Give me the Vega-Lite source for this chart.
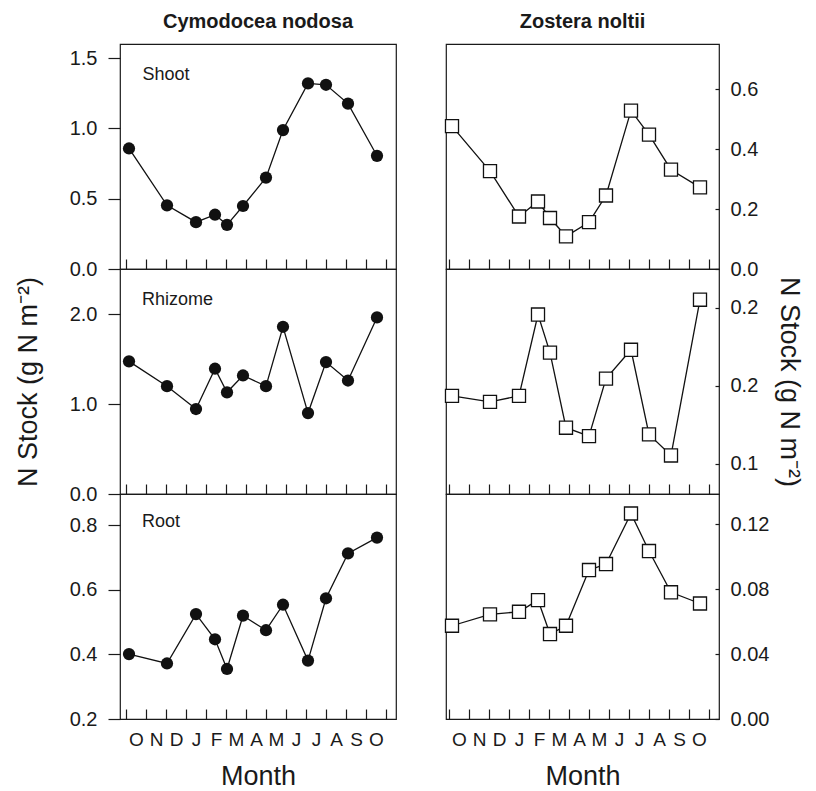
{
  "$schema": "https://vega.github.io/schema/vega-lite/v6.json",
  "background": "white",
  "padding": {"left": 13, "top": 11, "right": 5, "bottom": 2},
  "datasets": {
    "stock": [
      {"species": "Cymodocea nodosa", "part": "Shoot", "month": 0.15, "n": 0.857},
      {"species": "Cymodocea nodosa", "part": "Shoot", "month": 2.05, "n": 0.453},
      {"species": "Cymodocea nodosa", "part": "Shoot", "month": 3.5, "n": 0.333},
      {"species": "Cymodocea nodosa", "part": "Shoot", "month": 4.45, "n": 0.386},
      {"species": "Cymodocea nodosa", "part": "Shoot", "month": 5.05, "n": 0.314},
      {"species": "Cymodocea nodosa", "part": "Shoot", "month": 5.85, "n": 0.448},
      {"species": "Cymodocea nodosa", "part": "Shoot", "month": 7.0, "n": 0.65},
      {"species": "Cymodocea nodosa", "part": "Shoot", "month": 7.85, "n": 0.988},
      {"species": "Cymodocea nodosa", "part": "Shoot", "month": 9.1, "n": 1.32},
      {"species": "Cymodocea nodosa", "part": "Shoot", "month": 10.0, "n": 1.31},
      {"species": "Cymodocea nodosa", "part": "Shoot", "month": 11.1, "n": 1.176},
      {"species": "Cymodocea nodosa", "part": "Shoot", "month": 12.55, "n": 0.805},
      {"species": "Cymodocea nodosa", "part": "Rhizome", "month": 0.15, "n": 1.474},
      {"species": "Cymodocea nodosa", "part": "Rhizome", "month": 2.05, "n": 1.198},
      {"species": "Cymodocea nodosa", "part": "Rhizome", "month": 3.5, "n": 0.944},
      {"species": "Cymodocea nodosa", "part": "Rhizome", "month": 4.45, "n": 1.392},
      {"species": "Cymodocea nodosa", "part": "Rhizome", "month": 5.05, "n": 1.13},
      {"species": "Cymodocea nodosa", "part": "Rhizome", "month": 5.85, "n": 1.317},
      {"species": "Cymodocea nodosa", "part": "Rhizome", "month": 7.0, "n": 1.198},
      {"species": "Cymodocea nodosa", "part": "Rhizome", "month": 7.85, "n": 1.858},
      {"species": "Cymodocea nodosa", "part": "Rhizome", "month": 9.1, "n": 0.899},
      {"species": "Cymodocea nodosa", "part": "Rhizome", "month": 10.0, "n": 1.466},
      {"species": "Cymodocea nodosa", "part": "Rhizome", "month": 11.1, "n": 1.261},
      {"species": "Cymodocea nodosa", "part": "Rhizome", "month": 12.55, "n": 1.962},
      {"species": "Cymodocea nodosa", "part": "Root", "month": 0.15, "n": 0.401},
      {"species": "Cymodocea nodosa", "part": "Root", "month": 2.05, "n": 0.372},
      {"species": "Cymodocea nodosa", "part": "Root", "month": 3.5, "n": 0.525},
      {"species": "Cymodocea nodosa", "part": "Root", "month": 4.45, "n": 0.447},
      {"species": "Cymodocea nodosa", "part": "Root", "month": 5.05, "n": 0.355},
      {"species": "Cymodocea nodosa", "part": "Root", "month": 5.85, "n": 0.52},
      {"species": "Cymodocea nodosa", "part": "Root", "month": 7.0, "n": 0.475},
      {"species": "Cymodocea nodosa", "part": "Root", "month": 7.85, "n": 0.554},
      {"species": "Cymodocea nodosa", "part": "Root", "month": 9.1, "n": 0.381},
      {"species": "Cymodocea nodosa", "part": "Root", "month": 10.0, "n": 0.574},
      {"species": "Cymodocea nodosa", "part": "Root", "month": 11.1, "n": 0.713},
      {"species": "Cymodocea nodosa", "part": "Root", "month": 12.55, "n": 0.762},
      {"species": "Zostera noltii", "part": "Shoot", "month": 0.15, "n": 0.476},
      {"species": "Zostera noltii", "part": "Shoot", "month": 2.05, "n": 0.326},
      {"species": "Zostera noltii", "part": "Shoot", "month": 3.5, "n": 0.175},
      {"species": "Zostera noltii", "part": "Shoot", "month": 4.45, "n": 0.225},
      {"species": "Zostera noltii", "part": "Shoot", "month": 5.05, "n": 0.17},
      {"species": "Zostera noltii", "part": "Shoot", "month": 5.85, "n": 0.109},
      {"species": "Zostera noltii", "part": "Shoot", "month": 7.0, "n": 0.156},
      {"species": "Zostera noltii", "part": "Shoot", "month": 7.85, "n": 0.245},
      {"species": "Zostera noltii", "part": "Shoot", "month": 9.1, "n": 0.528},
      {"species": "Zostera noltii", "part": "Shoot", "month": 10.0, "n": 0.448},
      {"species": "Zostera noltii", "part": "Shoot", "month": 11.1, "n": 0.331},
      {"species": "Zostera noltii", "part": "Shoot", "month": 12.55, "n": 0.272},
      {"species": "Zostera noltii", "part": "Rhizome", "month": 0.15, "n": 0.1436},
      {"species": "Zostera noltii", "part": "Rhizome", "month": 2.05, "n": 0.1398},
      {"species": "Zostera noltii", "part": "Rhizome", "month": 3.5, "n": 0.1436},
      {"species": "Zostera noltii", "part": "Rhizome", "month": 4.45, "n": 0.1958},
      {"species": "Zostera noltii", "part": "Rhizome", "month": 5.05, "n": 0.1714},
      {"species": "Zostera noltii", "part": "Rhizome", "month": 5.85, "n": 0.1232},
      {"species": "Zostera noltii", "part": "Rhizome", "month": 7.0, "n": 0.1178},
      {"species": "Zostera noltii", "part": "Rhizome", "month": 7.85, "n": 0.1547},
      {"species": "Zostera noltii", "part": "Rhizome", "month": 9.1, "n": 0.1732},
      {"species": "Zostera noltii", "part": "Rhizome", "month": 10.0, "n": 0.1189},
      {"species": "Zostera noltii", "part": "Rhizome", "month": 11.1, "n": 0.1054},
      {"species": "Zostera noltii", "part": "Rhizome", "month": 12.55, "n": 0.2053},
      {"species": "Zostera noltii", "part": "Root", "month": 0.15, "n": 0.0574},
      {"species": "Zostera noltii", "part": "Root", "month": 2.05, "n": 0.0644},
      {"species": "Zostera noltii", "part": "Root", "month": 3.5, "n": 0.066},
      {"species": "Zostera noltii", "part": "Root", "month": 4.45, "n": 0.0732},
      {"species": "Zostera noltii", "part": "Root", "month": 5.05, "n": 0.0523},
      {"species": "Zostera noltii", "part": "Root", "month": 5.85, "n": 0.0574},
      {"species": "Zostera noltii", "part": "Root", "month": 7.0, "n": 0.0917},
      {"species": "Zostera noltii", "part": "Root", "month": 7.85, "n": 0.0954},
      {"species": "Zostera noltii", "part": "Root", "month": 9.1, "n": 0.1265},
      {"species": "Zostera noltii", "part": "Root", "month": 10.0, "n": 0.1034},
      {"species": "Zostera noltii", "part": "Root", "month": 11.1, "n": 0.078},
      {"species": "Zostera noltii", "part": "Root", "month": 12.55, "n": 0.0711}
    ]
  },
  "config": {
    "view": {"stroke": "#1a1a1a", "strokeWidth": 1.2},
    "font": "Liberation Sans",
    "axis": {
      "domain": false, "grid": false,
      "tickColor": "#1a1a1a", "tickWidth": 1.2,
      "labelColor": "#1a1a1a", "labelFont": "Liberation Sans", "labelFontSize": 20,
      "titleColor": "#1a1a1a", "titleFont": "Liberation Sans", "titleFontSize": 27, "titleFontWeight": "normal"
    },
    "title": {"font": "Liberation Sans", "color": "#1a1a1a"}
  },
  "hconcat": [
    {
      "vconcat": [
        {
          "width": 276, "height": 225,
          "title": {"text": "Cymodocea nodosa", "fontSize": 20, "fontWeight": "bold", "anchor": "middle", "frame": "group", "offset": -4, "baseline": "alphabetic"},
          "data": {"name": "stock"},
          "transform": [{"filter": "datum.species == 'Cymodocea nodosa' && datum.part == 'Shoot'"}],
          "encoding": {
            "x": {"field": "month", "type": "quantitative", "scale": {"domain": [-0.3, 13.5], "nice": false, "zero": false},
                  "axis": {"values": [0,1,2,3,4,5,6,7,8,9,10,11,12,13], "labels": false, "tickSize": -10, "title": null}},
            "y": {"field": "n", "type": "quantitative", "scale": {"domain": [0, 1.6], "nice": false, "zero": false},
                  "axis": {"values": [0, 0.5, 1, 1.5], "format": ".1f", "tickSize": 12, "labelPadding": 11,
                           "title": "Shoot", "titleAngle": 0, "titleX": 22, "titleY": 35, "titleAlign": "left", "titleBaseline": "alphabetic", "titleFontSize": 18}}
          },
          "layer": [
            {"mark": {"type": "line", "color": "#111", "strokeWidth": 1.3}},
            {"mark": {"type": "point", "shape": "circle", "filled": true, "size": 150, "color": "#111", "opacity": 1}}
          ]
        },
        {
          "width": 276, "height": 225,
          "title": {"text": "Rhizome", "fontSize": 18, "fontWeight": "normal", "anchor": "start", "frame": "group", "offset": -54, "dx": 22, "baseline": "alphabetic"},
          "data": {"name": "stock"},
          "transform": [{"filter": "datum.species == 'Cymodocea nodosa' && datum.part == 'Rhizome'"}],
          "encoding": {
            "x": {"field": "month", "type": "quantitative", "scale": {"domain": [-0.3, 13.5], "nice": false, "zero": false},
                  "axis": {"values": [0,1,2,3,4,5,6,7,8,9,10,11,12,13], "labels": false, "tickSize": -10, "title": null}},
            "y": {"field": "n", "type": "quantitative", "scale": {"domain": [0, 2.5], "nice": false, "zero": false},
                  "axis": {"values": [0, 1, 2], "format": ".1f", "tickSize": 12, "labelPadding": 11,
                           "title": "N Stock (g N m⁻²)", "titlePadding": 27}}
          },
          "layer": [
            {"mark": {"type": "line", "color": "#111", "strokeWidth": 1.3}},
            {"mark": {"type": "point", "shape": "circle", "filled": true, "size": 150, "color": "#111", "opacity": 1}}
          ]
        },
        {
          "width": 276, "height": 225,
          "title": {"text": "Root", "fontSize": 18, "fontWeight": "normal", "anchor": "start", "frame": "group", "offset": -51, "dx": 22, "baseline": "alphabetic"},
          "data": {"name": "stock"},
          "transform": [{"filter": "datum.species == 'Cymodocea nodosa' && datum.part == 'Root'"}],
          "encoding": {
            "x": {"field": "month", "type": "quantitative", "scale": {"domain": [-0.3, 13.5], "nice": false, "zero": false},
                  "axis": {"values": [0,1,2,3,4,5,6,7,8,9,10,11,12,13], "tickSize": -10,
                           "labelExpr": "['O','N','D','J','F','M','A','M','J','J','A','S','O',''][datum.value]",
                           "labelOffset": 10, "labelPadding": 21, "labelFontSize": 19, "labelFlush": false, "labelOverlap": false, "labelBaseline": "top", "labelAlign": "center",
                           "title": "Month", "titlePadding": 14}},
            "y": {"field": "n", "type": "quantitative", "scale": {"domain": [0.2, 0.897], "nice": false, "zero": false},
                  "axis": {"values": [0.2, 0.4, 0.6, 0.8], "format": ".1f", "tickSize": 12, "labelPadding": 11, "title": null}}
          },
          "layer": [
            {"mark": {"type": "line", "color": "#111", "strokeWidth": 1.3}},
            {"mark": {"type": "point", "shape": "circle", "filled": true, "size": 150, "color": "#111", "opacity": 1}}
          ]
        }
      ],
      "spacing": 0,
      "bounds": "flush"
    },
    {
      "vconcat": [
        {
          "width": 273, "height": 225,
          "title": {"text": "Zostera noltii", "fontSize": 20, "fontWeight": "bold", "anchor": "middle", "frame": "group", "offset": -4, "baseline": "alphabetic"},
          "data": {"name": "stock"},
          "transform": [{"filter": "datum.species == 'Zostera noltii' && datum.part == 'Shoot'"}],
          "encoding": {
            "x": {"field": "month", "type": "quantitative", "scale": {"domain": [-0.15, 13.5], "nice": false, "zero": false},
                  "axis": {"values": [0,1,2,3,4,5,6,7,8,9,10,11,12,13], "labels": false, "tickSize": -10, "title": null}},
            "y": {"field": "n", "type": "quantitative", "scale": {"domain": [0, 0.75], "nice": false, "zero": false},
                  "axis": {"orient": "right", "values": [0, 0.2, 0.4, 0.6], "format": ".1f", "tickSize": -4, "labelPadding": 15, "title": null}}
          },
          "layer": [
            {"mark": {"type": "line", "color": "#111", "strokeWidth": 1.3}},
            {"mark": {"type": "point", "shape": "square", "filled": true, "fill": "white", "stroke": "#111", "strokeWidth": 1.3, "size": 170, "opacity": 1}}
          ]
        },
        {
          "width": 273, "height": 225,
          "data": {"name": "stock"},
          "transform": [{"filter": "datum.species == 'Zostera noltii' && datum.part == 'Rhizome'"}],
          "encoding": {
            "x": {"field": "month", "type": "quantitative", "scale": {"domain": [-0.15, 13.5], "nice": false, "zero": false},
                  "axis": {"values": [0,1,2,3,4,5,6,7,8,9,10,11,12,13], "labels": false, "tickSize": -10, "title": null}},
            "y": {"field": "n", "type": "quantitative", "scale": {"domain": [0.0807, 0.225], "nice": false, "zero": false},
                  "axis": {"orient": "right", "values": [0.1, 0.15, 0.2], "labelExpr": "datum.value < 0.125 ? '0.1' : '0.2'", "tickSize": -4, "labelPadding": 15,
                           "title": "N Stock (g N m⁻²)", "titleAngle": 90, "titlePadding": 17}}
          },
          "layer": [
            {"mark": {"type": "line", "color": "#111", "strokeWidth": 1.3}},
            {"mark": {"type": "point", "shape": "square", "filled": true, "fill": "white", "stroke": "#111", "strokeWidth": 1.3, "size": 170, "opacity": 1}}
          ]
        },
        {
          "width": 273, "height": 225,
          "data": {"name": "stock"},
          "transform": [{"filter": "datum.species == 'Zostera noltii' && datum.part == 'Root'"}],
          "encoding": {
            "x": {"field": "month", "type": "quantitative", "scale": {"domain": [-0.15, 13.5], "nice": false, "zero": false},
                  "axis": {"values": [0,1,2,3,4,5,6,7,8,9,10,11,12,13], "tickSize": -10,
                           "labelExpr": "['O','N','D','J','F','M','A','M','J','J','A','S','O',''][datum.value]",
                           "labelOffset": 10, "labelPadding": 21, "labelFontSize": 19, "labelFlush": false, "labelOverlap": false, "labelBaseline": "top", "labelAlign": "center",
                           "title": "Month", "titlePadding": 14}},
            "y": {"field": "n", "type": "quantitative", "scale": {"domain": [0, 0.1385], "nice": false, "zero": false},
                  "axis": {"orient": "right", "values": [0, 0.04, 0.08, 0.12], "format": ".2f", "tickSize": -4, "labelPadding": 15, "title": null}}
          },
          "layer": [
            {"mark": {"type": "line", "color": "#111", "strokeWidth": 1.3}},
            {"mark": {"type": "point", "shape": "square", "filled": true, "fill": "white", "stroke": "#111", "strokeWidth": 1.3, "size": 170, "opacity": 1}}
          ]
        }
      ],
      "spacing": 0,
      "bounds": "flush"
    }
  ],
  "spacing": 45
}
